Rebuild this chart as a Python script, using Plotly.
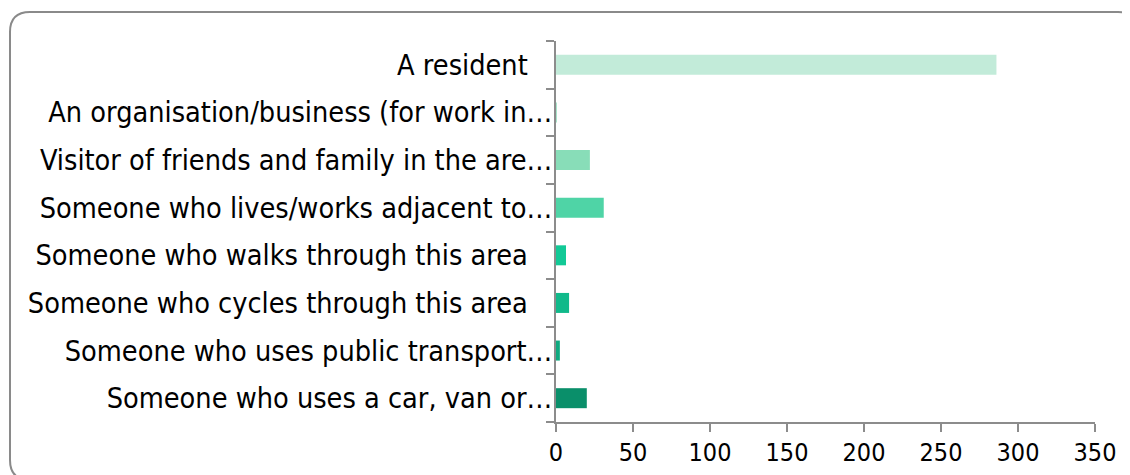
import plotly.graph_objects as go

categories = [
    "A resident",
    "An organisation/business (for work in…",
    "Visitor of friends and family in the are…",
    "Someone who lives/works adjacent to…",
    "Someone who walks through this area",
    "Someone who cycles through this area",
    "Someone who uses public transport…",
    "Someone who uses a car, van or…",
]
truncated = [False, True, True, True, False, False, True, True]
counts = [286, 0.5, 22, 31, 6.5, 8.5, 2.5, 20]
bar_colors = ["#c2ebd9", "#a8e4ca", "#88ddb8", "#4fd4a6", "#12c996", "#10b98a", "#0faa80", "#0a8f6a"]
x_ticks = [0, 50, 100, 150, 200, 250, 300, 350]

# the page puts the plot 8px in from the top-left corner, so size for that
OFF = 8
W, H = 1130 - OFF, 475 - OFF
L, R, T, B = 556 - OFF, 35, 41 - OFF, 53
FONT = "DejaVu Sans Condensed, DejaVu Sans, sans-serif"

# full labels carry trailing padding like the source chart
tick_text = [c if t else c + "\u00a0" * 3 for c, t in zip(categories, truncated)]

fig = go.Figure(
    go.Bar(
        x=counts, y=categories, orientation="h",
        marker=dict(color=bar_colors, line=dict(width=0)),
        width=0.42,
    )
)

axis_grey = "#8c8c8c"
fig.update_layout(
    width=W, height=H,
    margin=dict(l=L, r=R, t=T, b=B, autoexpand=False),
    paper_bgcolor="white", plot_bgcolor="white",
    font=dict(family=FONT, size=28.6, color="black"),
    showlegend=False,
    xaxis=dict(
        range=[0, 350], tickvals=x_ticks, showgrid=False, zeroline=False,
        showline=True, linecolor=axis_grey, linewidth=2,
        ticks="outside", ticklen=8, tickcolor=axis_grey, tickwidth=2,
        ticklabelstandoff=-1, tickfont=dict(size=25),
    ),
    yaxis=dict(
        autorange="reversed", type="category",
        tickvals=categories, ticktext=tick_text, tickson="boundaries",
        showgrid=False, zeroline=False,
        showline=True, linecolor=axis_grey, linewidth=2,
        ticks="outside", ticklen=8, tickcolor=axis_grey, tickwidth=2,
        ticklabelstandoff=-4, tickfont=dict(size=28.6),
    ),
)

# rounded outer border, converted from page pixels to paper coords
pw, ph = W - L - R, H - T - B


def px(x):
    return (x - OFF - L) / pw


def py(y):
    return (H - B - (y - OFF)) / ph


x0, y0, x1, y1, rad = 10, 12, 1138, 480, 20
path = (
    f"M {px(x0)},{py(y0 + rad)} "
    f"Q {px(x0)},{py(y0)} {px(x0 + rad)},{py(y0)} "
    f"L {px(x1 - rad)},{py(y0)} "
    f"Q {px(x1)},{py(y0)} {px(x1)},{py(y0 + rad)} "
    f"L {px(x1)},{py(y1 - rad)} "
    f"Q {px(x1)},{py(y1)} {px(x1 - rad)},{py(y1)} "
    f"L {px(x0 + rad)},{py(y1)} "
    f"Q {px(x0)},{py(y1)} {px(x0)},{py(y1 - rad)} Z"
)
fig.add_shape(
    type="path", path=path, xref="paper", yref="paper",
    line=dict(color="#8a8a8a", width=2), fillcolor="rgba(0,0,0,0)", layer="below",
)

fig.write_html("out.html")
